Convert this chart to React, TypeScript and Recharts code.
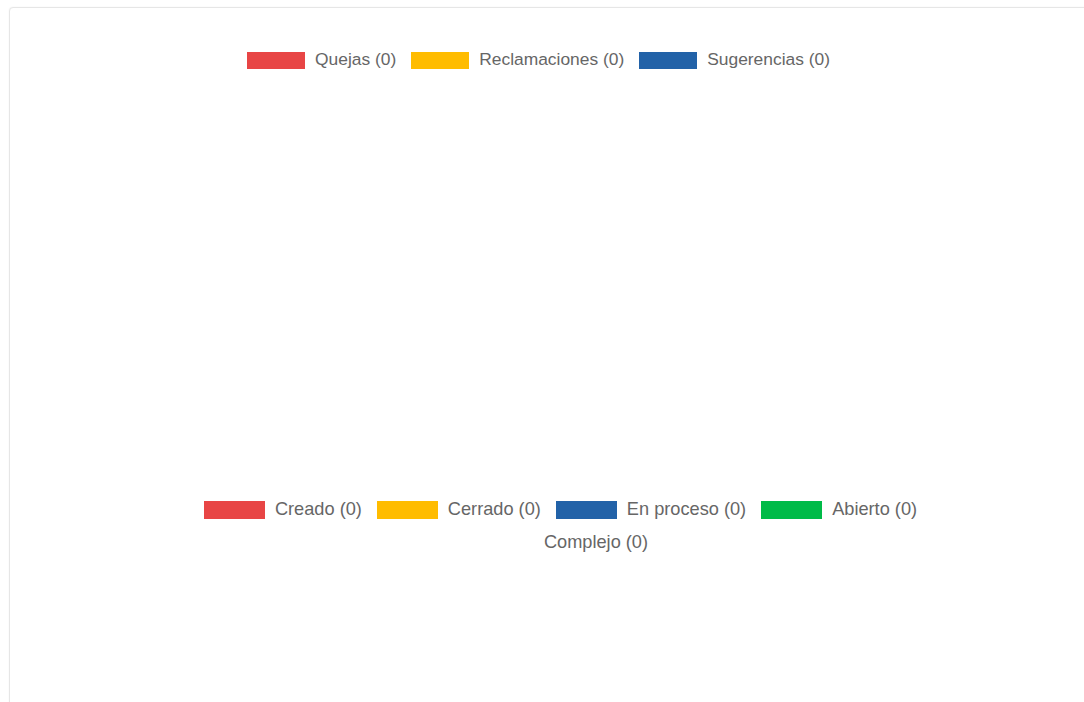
import { PieChart, Pie, Cell, Legend } from "recharts";

// tipos de solicitud
const tipoNames = ["Quejas", "Reclamaciones", "Sugerencias"];
const tipoValues = [0, 0, 0];
const tipoColors = ["#e84545", "#ffbc00", "#2262a8"];

// estados de solicitud
const estadoNames = ["Creado", "Cerrado", "En proceso", "Abierto", "Complejo"];
const estadoValues = [0, 0, 0, 0, 0];
const estadoColors = ["#e84545", "#ffbc00", "#2262a8", "#00bb48", "#ffffff"];

const tipoData = tipoNames.map((name, i) => ({ name, value: tipoValues[i] }));
const estadoData = estadoNames.map((name, i) => ({ name, value: estadoValues[i] }));

const FONT = '"Liberation Sans", Arial, Helvetica, sans-serif';

// keep legend entries in the same order as the data
const makeLegend = (order: string[], fontSize: number, boxW: number, boxH: number) => (
  props: any
) => {
  const items = [...(props.payload || [])].sort(
    (a: any, b: any) => order.indexOf(a.value) - order.indexOf(b.value)
  );
  return (
    <div
      style={{
        display: "flex",
        flexWrap: "wrap",
        justifyContent: "center",
        columnGap: 15,
        rowGap: 13,
        fontFamily: FONT,
        fontSize,
        color: "#666",
      }}
    >
      {items.map((item: any, i: number) => (
        <div
          key={`legend-${i}`}
          style={{ display: "flex", alignItems: "center", height: 20, whiteSpace: "nowrap" }}
        >
          <span
            style={{
              display: "inline-block",
              width: boxW,
              height: boxH,
              background: item.color,
              marginRight: 10,
            }}
          />
          <span style={{ position: "relative", top: -1 }}>
            {`${item.value} (${item.payload?.value ?? 0})`}
          </span>
        </div>
      ))}
    </div>
  );
};

export default function App() {
  return (
    <div
      style={{
        position: "absolute",
        left: 9,
        top: 7,
        width: 1100,
        height: 720,
        border: "1px solid #e6e6e6",
        borderRadius: 4,
        boxShadow: "0 0 2px rgba(0,0,0,0.06)",
        background: "#fff",
      }}
    >
      <div style={{ position: "absolute", left: 28.5, top: 32 }}>
        <PieChart width={1000} height={400} margin={{ top: 10, right: 0, bottom: 0, left: 0 }}>
          <Legend
            verticalAlign="top"
            align="center"
            content={makeLegend(tipoNames, 17.4, 58, 17)}
          />
          <Pie data={tipoData} dataKey="value" nameKey="name" isAnimationActive={false}>
            {tipoData.map((entry, index) => (
              <Cell key={`cell-${index}`} fill={tipoColors[index]} />
            ))}
          </Pie>
        </PieChart>
      </div>
      <div style={{ position: "absolute", left: 150.5, top: 482 }}>
        <PieChart width={800} height={200} margin={{ top: 10, right: 0, bottom: 0, left: 0 }}>
          <Legend
            verticalAlign="top"
            align="center"
            content={makeLegend(estadoNames, 18.2, 61, 18)}
          />
          <Pie data={estadoData} dataKey="value" nameKey="name" isAnimationActive={false}>
            {estadoData.map((entry, index) => (
              <Cell key={`cell-${index}`} fill={estadoColors[index]} />
            ))}
          </Pie>
        </PieChart>
      </div>
    </div>
  );
}
